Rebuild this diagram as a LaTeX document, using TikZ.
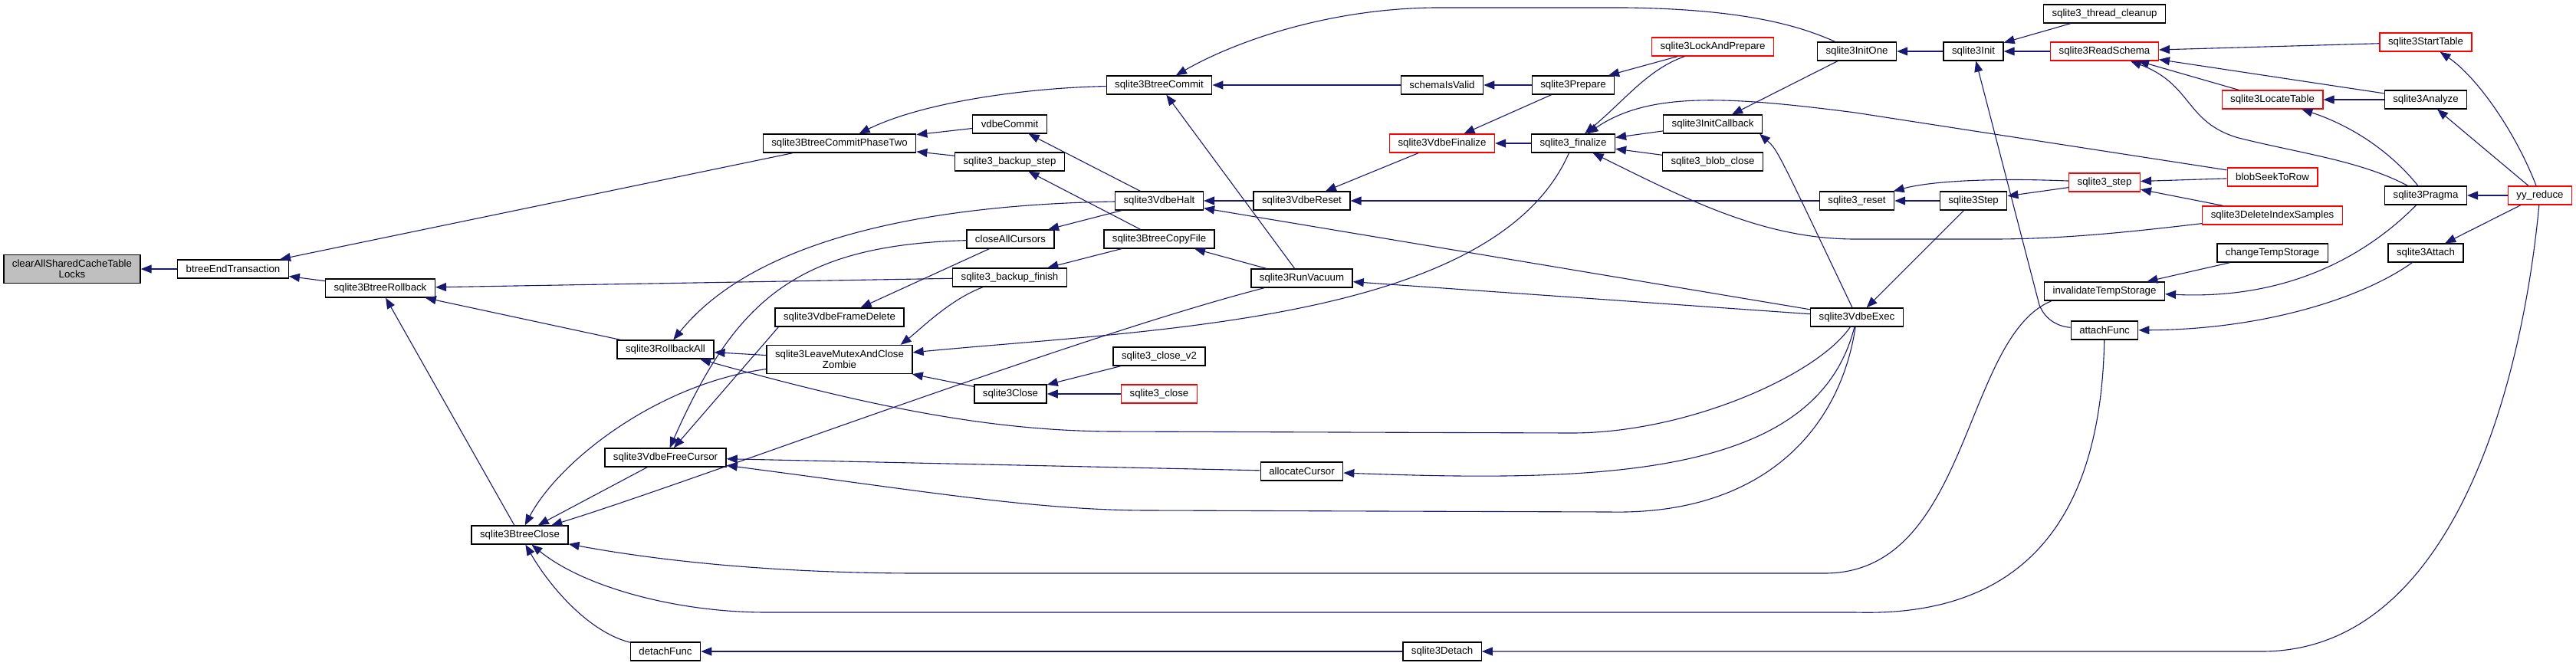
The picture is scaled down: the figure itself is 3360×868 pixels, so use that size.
\documentclass[tikz,border=0pt]{standalone}
\usepackage{fontspec}
\setmainfont{Liberation Sans}
\usetikzlibrary{arrows.meta}
\definecolor{edgeblue}{HTML}{191970}

\begin{document}
\begin{tikzpicture}[x=1pt, y=-1pt,
  fn/.style={draw=black, fill=white, line width=1.3pt, inner xsep=11pt, inner ysep=0pt,
    minimum height=24pt, align=center, font=\fontsize{13.25}{13.5}\selectfont},
  trunc/.style={fn, draw=red},
  root/.style={fn, fill=gray!50, minimum height=37pt},
  call/.style={draw=edgeblue, line width=1.1pt, {Triangle[length=14pt,width=11pt]}-}]
  \useasboundingbox (0,0) rectangle (3360,868);

  % functions, column by column
  \node[root] (clearall) at (94,351) {clearAllSharedCacheTable\\Locks};
  \node[fn] (btreeend) at (304,351) {btreeEndTransaction};
  \node[fn] (rollback) at (496,376) {sqlite3BtreeRollback};
  \node[fn] (btreeclose) at (678,698) {sqlite3BtreeClose};
  \node[fn] (rollbackall) at (868,456) {sqlite3RollbackAll};
  \node[fn] (freecursor) at (868,597) {sqlite3VdbeFreeCursor};
  \node[fn] (detach) at (868,850) {detachFunc};
  \node[fn] (phase2) at (1095,187) {sqlite3BtreeCommitPhaseTwo};
  \node[fn] (framedel) at (1095,414) {sqlite3VdbeFrameDelete};
  \node[fn, minimum height=37pt] (mutex) at (1095,469) {sqlite3LeaveMutexAndClose\\Zombie};
  \node[fn] (vdbecommit) at (1317,162) {vdbeCommit};
  \node[fn] (bstep) at (1317,211) {sqlite3\_backup\_step};
  \node[fn] (closeall) at (1318,312) {closeAllCursors};
  \node[fn] (bfinish) at (1317,362) {sqlite3\_backup\_finish};
  \node[fn] (sclose) at (1318,514) {sqlite3Close};
  \node[fn] (commit) at (1512,111) {sqlite3BtreeCommit};
  \node[fn] (vdbehalt) at (1512,262) {sqlite3VdbeHalt};
  \node[fn] (copyfile) at (1512,312) {sqlite3BtreeCopyFile};
  \node[fn] (closev2) at (1512,465) {sqlite3\_close\_v2};
  \node[trunc] (apiclose) at (1512,514) {sqlite3\_close};
  \node[fn] (vdbereset) at (1698,262) {sqlite3VdbeReset};
  \node[fn] (runvacuum) at (1698,363) {sqlite3RunVacuum};
  \node[fn] (alloc) at (1698,615) {allocateCursor};
  \node[fn] (schemavalid) at (1881,111) {schemaIsValid};
  \node[trunc] (vdbefinal) at (1881,187) {sqlite3VdbeFinalize};
  \node[fn] (sdetach) at (1881,850) {sqlite3Detach};
  \node[fn] (prepare) at (2052,111) {sqlite3Prepare};
  \node[fn] (finalize) at (2052,187) {sqlite3\_finalize};
  \node[trunc] (lockprep) at (2234,61) {sqlite3LockAndPrepare};
  \node[fn] (initcb) at (2234,162) {sqlite3InitCallback};
  \node[fn] (blobclose) at (2234,211) {sqlite3\_blob\_close};
  \node[fn] (initone) at (2422,67) {sqlite3InitOne};
  \node[fn] (sreset) at (2422,262) {sqlite3\_reset};
  \node[fn] (vdbeexec) at (2422,414) {sqlite3VdbeExec};
  \node[fn] (init) at (2574,67) {sqlite3Init};
  \node[fn] (step) at (2574,262) {sqlite3Step};
  \node[fn] (threadclean) at (2745,18) {sqlite3\_thread\_cleanup};
  \node[trunc] (readschema) at (2745,67) {sqlite3ReadSchema};
  \node[trunc] (apistep) at (2745,238) {sqlite3\_step};
  \node[fn] (invalidate) at (2745,380) {invalidateTempStorage};
  \node[fn] (attachfunc) at (2745,431) {attachFunc};
  \node[trunc] (locate) at (2964,130) {sqlite3LocateTable};
  \node[trunc] (blobseek) at (2964,231) {blobSeekToRow};
  \node[trunc] (delidx) at (2964,281) {sqlite3DeleteIndexSamples};
  \node[fn] (changetemp) at (2964,330) {changeTempStorage};
  \node[trunc] (starttable) at (3164,55) {sqlite3StartTable};
  \node[fn] (analyze) at (3164,130) {sqlite3Analyze};
  \node[fn] (pragma) at (3164,255) {sqlite3Pragma};
  \node[fn] (sattach) at (3164,330) {sqlite3Attach};
  \node[trunc] (yyreduce) at (3313,255) {yy\_reduce};

  % straight calls (callee/caller)
  \foreach \a/\b in {clearall/btreeend, btreeend/phase2, btreeend/rollback,
      rollback/bfinish, rollback/rollbackall, rollback/btreeclose,
      phase2/vdbecommit, phase2/bstep, vdbecommit/vdbehalt, bstep/copyfile,
      closeall/vdbehalt, bfinish/copyfile, commit/schemavalid, commit/runvacuum,
      vdbehalt/vdbereset, vdbehalt/vdbeexec, copyfile/runvacuum, mutex/sclose,
      framedel/closeall, freecursor/alloc, btreeclose/freecursor, rollbackall/mutex,
      sclose/closev2, sclose/apiclose, vdbereset/vdbefinal, vdbereset/sreset,
      runvacuum/vdbeexec, schemavalid/prepare, vdbefinal/prepare, vdbefinal/finalize,
      prepare/lockprep, finalize/initcb, finalize/blobclose, initcb/initone,
      initone/init, init/threadclean, init/readschema, sreset/step, step/apistep,
      vdbeexec/step, apistep/blobseek, apistep/delidx, invalidate/changetemp,
      readschema/starttable, readschema/analyze, readschema/locate, locate/analyze,
      analyze/yyreduce, pragma/yyreduce, sattach/yyreduce, detach/sdetach}
    \draw[call] (\a) -- (\b);

  % curved calls
  \draw[call] (phase2) .. controls (1200,135) and (1330,115) .. (commit);
  \draw[call] (commit) .. controls (1600,60) and (1720,12) .. (1870,10)
    -- (2120,10) .. controls (2280,12) and (2350,35) .. (initone);
  \draw[call] (rollbackall) .. controls (930,380) and (1050,270) .. (vdbehalt);
  \draw[call] (rollbackall) .. controls (1150,535) and (1300,562) .. (1450,563)
    -- (2050,565) .. controls (2200,565) and (2370,490) .. (vdbeexec);
  \draw[call] (freecursor) .. controls (960,390) and (1040,320) .. (closeall);
  \draw[call] (freecursor) -- ([xshift=5pt]framedel.south west);
  \draw[call] (freecursor) .. controls (1200,640) and (1350,666) .. (1500,666)
    -- (2100,668) .. controls (2300,672) and (2400,560) .. (vdbeexec);
  \draw[call] (btreeclose) .. controls (730,600) and (860,500) .. (mutex);
  \draw[call] (btreeclose) .. controls (900,630) and (1400,440) .. (runvacuum);
  \draw[call] (btreeclose) .. controls (850,730) and (1000,748) .. (1200,748)
    -- (2380,748) .. controls (2570,748) and (2560,440) .. ([xshift=10pt]invalidate.south west);
  \draw[call] (btreeclose) .. controls (760,765) and (880,799) .. (1000,799)
    -- (2420,799) .. controls (2620,805) and (2740,700) .. (attachfunc);
  \draw[call] (btreeclose) .. controls (720,770) and (770,825) .. (detach);
  \draw[call] ([xshift=-16pt]mutex.north east) .. controls (1200,430) and (1240,390) .. (bfinish);
  \draw[call] (mutex) .. controls (1500,430) and (1950,420) .. (finalize);
  \draw[call] (alloc) .. controls (2100,630) and (2370,620) .. (vdbeexec);
  \draw[call] (finalize) .. controls (2120,130) and (2150,90) .. (lockprep);
  \draw[call] (finalize) .. controls (2150,120) and (2250,125) .. (2420,147) -- (blobseek);
  \draw[call] (finalize) .. controls (2200,260) and (2300,312) .. (2420,312)
    -- (2600,312) .. controls (2700,312) and (2800,300) .. (delidx);
  \draw[call] ([xshift=-4pt]initcb.south east) .. controls (2318,195) .. (vdbeexec);
  \draw[call] (init) -- (2660,398) .. controls (2668,418) and (2685,426) .. (attachfunc);
  \draw[call] (sreset) .. controls (2520,236) and (2600,232) .. (apistep);
  \draw[call] (readschema) .. controls (2860,110) and (2850,160) .. (2920,180)
    .. controls (3000,200) and (3080,210) .. (pragma);
  \draw[call] (locate) .. controls (3070,165) and (3120,200) .. (pragma);
  \draw[call] (starttable) .. controls (3230,100) and (3280,170) .. (yyreduce);
  \draw[call] (invalidate) .. controls (3000,392) and (3100,320) .. (pragma);
  \draw[call] (attachfunc) .. controls (2950,430) and (3080,390) .. (sattach);
  \draw[call] (sdetach) -- (2950,850) .. controls (3200,850) and (3290,500) .. (yyreduce);
\end{tikzpicture}
\end{document}
